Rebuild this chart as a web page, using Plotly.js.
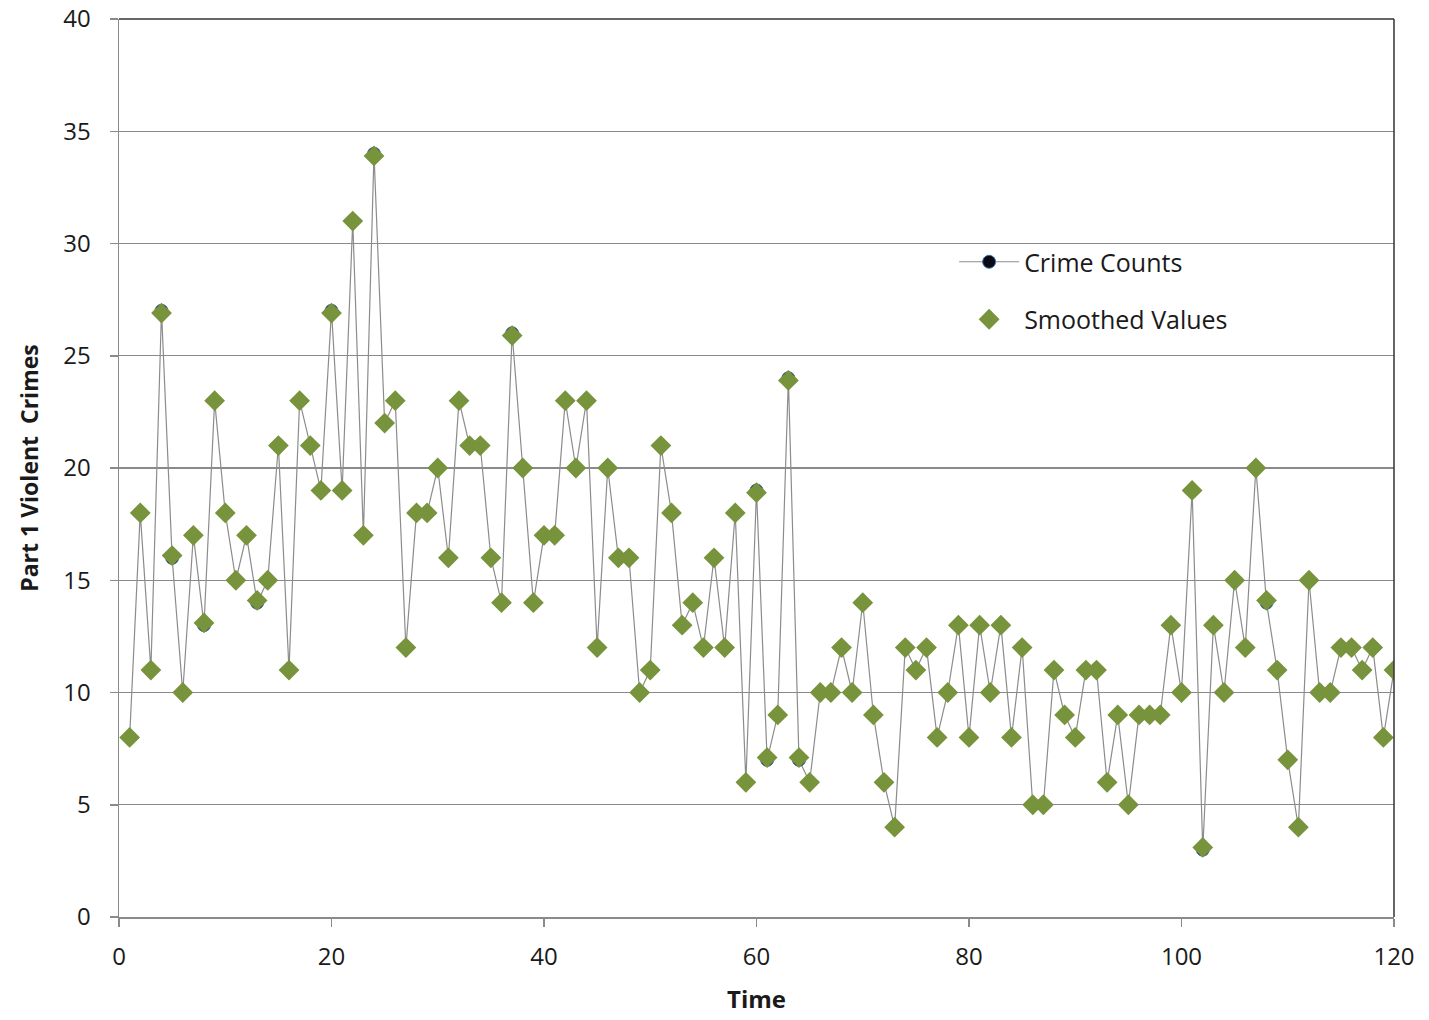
<!DOCTYPE html>
<html>
<head>
<meta charset="utf-8">
<script src="https://cdn.plot.ly/plotly-3.0.1.min.js"></script>
<style>html,body{margin:0;padding:0;background:#fff;}#chart{width:1429px;height:1020px;}</style>
</head>
<body>
<div id="chart"></div>
<script>
const timeIndex = Array.from({length: 120}, (_, i) => i + 1);

const crimeCounts = [
  8, 18, 11, 27, 16, 10, 17, 13, 23, 18,
  15, 17, 14, 15, 21, 11, 23, 21, 19, 27,
  19, 31, 17, 34, 22, 23, 12, 18, 18, 20,
  16, 23, 21, 21, 16, 14, 26, 20, 14, 17,
  17, 23, 20, 23, 12, 20, 16, 16, 10, 11,
  21, 18, 13, 14, 12, 16, 12, 18, 6, 19,
  7, 9, 24, 7, 6, 10, 10, 12, 10, 14,
  9, 6, 4, 12, 11, 12, 8, 10, 13, 8,
  13, 10, 13, 8, 12, 5, 5, 11, 9, 8,
  11, 11, 6, 9, 5, 9, 9, 9, 13, 10,
  19, 3, 13, 10, 15, 12, 20, 14, 11, 7,
  4, 15, 10, 10, 12, 12, 11, 12, 8, 11
];

const smoothedValues = [
  8, 18, 11, 26.9, 16.1, 10, 17, 13.1, 23, 18,
  15, 17, 14.1, 15, 21, 11, 23, 21, 19, 26.9,
  19, 31, 17, 33.9, 22, 23, 12, 18, 18, 20,
  16, 23, 21, 21, 16, 14, 25.9, 20, 14, 17,
  17, 23, 20, 23, 12, 20, 16, 16, 10, 11,
  21, 18, 13, 14, 12, 16, 12, 18, 6, 18.9,
  7.1, 9, 23.9, 7.1, 6, 10, 10, 12, 10, 14,
  9, 6, 4, 12, 11, 12, 8, 10, 13, 8,
  13, 10, 13, 8, 12, 5, 5, 11, 9, 8,
  11, 11, 6, 9, 5, 9, 9, 9, 13, 10,
  19, 3.1, 13, 10, 15, 12, 20, 14.1, 11, 7,
  4, 15, 10, 10, 12, 12, 11, 12, 8, 11
];

const xTickVals = [0, 20, 40, 60, 80, 100, 120];
const yTickVals = [0, 5, 10, 15, 20, 25, 30, 35, 40];

const FONT = '"Open Sans", "Noto Sans", sans-serif';

const traces = [
  {
    x: timeIndex, y: crimeCounts, name: 'Crime Counts', legendgroup: 'a',
    type: 'scatter', mode: 'lines+markers',
    line: {color: '#8c8c8c', width: 1.2},
    marker: {symbol: 'circle', size: 13, color: '#0a0a14', line: {color: '#3f6fb0', width: 1}}
  },
  {
    x: timeIndex, y: smoothedValues, name: 'Smoothed Values', legendgroup: 'b',
    type: 'scatter', mode: 'markers',
    marker: {symbol: 'diamond', size: 16, color: '#77933c', line: {width: 0}}
  }
];

const layout = {
  width: 1429, height: 1020,
  margin: {l: 119, r: 35, t: 19, b: 103},
  paper_bgcolor: '#ffffff', plot_bgcolor: '#ffffff',
  font: {family: FONT, size: 24, color: '#1a1a1a'},
  showlegend: true,
  legend: {
    x: 0.655, y: 0.755, xanchor: 'left', yanchor: 'top',
    bgcolor: 'rgba(0,0,0,0)', borderwidth: 0,
    font: {family: FONT, size: 25, color: '#1a1a1a'},
    itemwidth: 60, traceorder: 'grouped', tracegroupgap: 22
  },
  xaxis: {
    range: [0, 120], tickvals: xTickVals, ticktext: xTickVals.map(String),
    showgrid: false, zeroline: false,
    showline: true, linecolor: '#8a8a8a', linewidth: 1.5, mirror: false,
    ticks: 'outside', ticklen: 8, tickcolor: '#8a8a8a', tickwidth: 1.5,
    ticklabelstandoff: 10,
    tickfont: {family: FONT, size: 24, color: '#1a1a1a'},
    title: {text: '<b>Time</b>', font: {family: FONT, size: 24, color: '#1a1a1a'}, standoff: 20}
  },
  yaxis: {
    range: [0, 40], tickvals: yTickVals, ticktext: yTickVals.map(String),
    showgrid: true, gridcolor: '#8a8a8a', gridwidth: 1.2, zeroline: false,
    showline: true, linecolor: '#8a8a8a', linewidth: 1.5, mirror: false,
    ticks: 'outside', ticklen: 8, tickcolor: '#8a8a8a', tickwidth: 1.5,
    ticklabelstandoff: 14,
    tickfont: {family: FONT, size: 24, color: '#1a1a1a'},
    title: {text: '<b>Part 1 Violent  Crimes</b>', font: {family: FONT, size: 23, color: '#1a1a1a'}, standoff: 18}
  },
  shapes: [
    {type: 'line', xref: 'paper', yref: 'paper', x0: 0, x1: 1, y0: 1, y1: 1, line: {color: '#333333', width: 1.5}},
    {type: 'line', xref: 'paper', yref: 'paper', x0: 1, x1: 1, y0: 0, y1: 1, line: {color: '#333333', width: 1.5}}
  ]
};

Plotly.newPlot('chart', traces, layout, {displayModeBar: false, staticPlot: true});
</script>
</body>
</html>
